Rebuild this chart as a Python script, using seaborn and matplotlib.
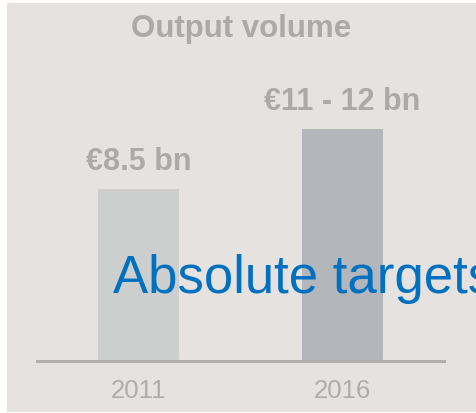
import pandas as pd
import matplotlib.pyplot as plt
import seaborn as sns
from matplotlib.patches import Rectangle

# chart data
years = ["2011", "2016"]
volume = [8.5, 11.5]
value_labels = ["€8.5 bn", "€11 - 12 bn"]
bar_colors = ["#CDCFCE", "#B3B6BA"]

sns.set_style("white")
plt.rcParams['font.family'] = ['Liberation Sans', 'DejaVu Sans']

df = pd.DataFrame({"year": years, "volume": volume})

fig = plt.figure(figsize=(4.76, 4.14), dpi=100, facecolor="white")
# grey panel behind everything
fig.patches.append(Rectangle((7/476, 1/414), 1 - 7/476, 1 - 5/414,
                             transform=fig.transFigure, facecolor="#E6E2DF",
                             edgecolor="none", zorder=-10))

ax = fig.add_axes([37/476, 52/414, 407/476, 302/414])
ax.set_facecolor("none")
sns.barplot(data=df, x="year", y="volume", hue="year", palette=bar_colors,
            width=0.4, legend=False, ax=ax, saturation=1, linewidth=0)
ax.set_xlim(-0.5, 1.5)
ax.set_ylim(0, 302/20.2)

for i, (v, lab) in enumerate(zip(volume, value_labels)):
    ax.annotate(lab, (i, v), xytext=(0, 14.4), textcoords="offset points",
                ha="center", va="baseline", fontsize=22, fontweight="bold",
                color="#ADA9A6")

sns.despine(ax=ax, left=True)
ax.spines["bottom"].set_color("#B4AFAB")
ax.spines["bottom"].set_linewidth(2.2)
ax.set_yticks([])
ax.set_xlabel("")
ax.set_ylabel("")
ax.tick_params(axis="x", length=0, pad=12, labelsize=18.5, labelcolor="#B0ACA9")

fig.text(241/476, 1 - 37/414, "Output volume", ha="center", va="baseline",
         fontsize=22.5, fontweight="bold", color="#ADA9A6")
# cut off at the right edge, as in the original slide
fig.text(113/476, 1 - 293/414, "Absolute targets", ha="left", va="baseline",
         fontsize=38, color="#0070C0")

fig.savefig("out.png", dpi=100, facecolor="white")
